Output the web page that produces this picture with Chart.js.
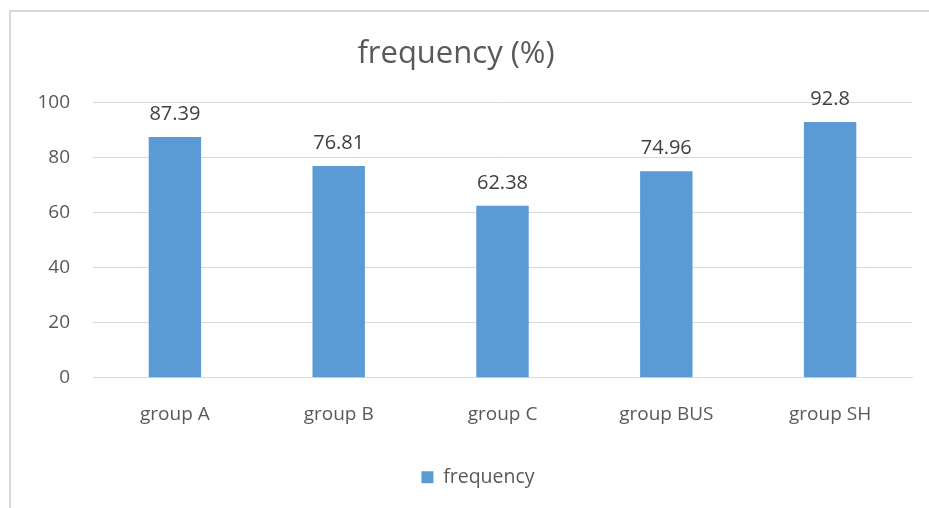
<!DOCTYPE html>
<html>
<head>
<meta charset="utf-8">
<script src="https://cdn.jsdelivr.net/npm/chart.js@4.4.1/dist/chart.umd.min.js"></script>
<style>
  html, body { margin: 0; padding: 0; background: #fff; overflow: hidden; }
  #frame { position: absolute; left: 9px; top: 10px; width: 1000px; height: 600px; border: 2px solid #d9d9d9; box-sizing: border-box; }
  #wrap { position: absolute; left: 0; top: 0; width: 929px; height: 508px; }
</style>
</head>
<body>
<div id="frame"></div>
<div id="wrap"><canvas id="myChart"></canvas></div>
<script>
const categories = ["group A", "group B", "group C", "group BUS", "group SH"];
const frequency = [87.39, 76.81, 62.38, 74.96, 92.8];
const yTicks = [0, 20, 40, 60, 80, 100];

const FONT = "'Open Sans', 'Noto Sans', sans-serif";

// labels above each bar
const barLabels = {
  id: "barLabels",
  afterLayout(chart) {
    // legend sits a bit right of centre in the original
    chart.legend.left += 22;
    chart.legend.right += 22;
  },
  afterDatasetsDraw(chart) {
    const ctx = chart.ctx;
    const meta = chart.getDatasetMeta(0);
    ctx.save();
    ctx.font = "20px " + FONT;
    ctx.fillStyle = "#404040";
    ctx.textAlign = "center";
    ctx.textBaseline = "middle";
    meta.data.forEach((bar, i) => {
      ctx.fillText(String(frequency[i]), bar.x, bar.y - 23);
    });
    ctx.restore();
  },
};

const config = {
  type: "bar",
  data: {
    labels: categories,
    datasets: [
      {
        label: "frequency",
        data: frequency,
        backgroundColor: "#5B9BD5",
        borderWidth: 0,
        categoryPercentage: 1,
        barPercentage: 0.32,
      },
    ],
  },
  options: {
    responsive: true,
    maintainAspectRatio: false,
    animation: false,
    layout: { padding: { left: 0, right: 17, top: 0, bottom: 11 } },
    plugins: {
      title: {
        display: true,
        text: "frequency (%)",
        color: "#595959",
        font: { family: FONT, size: 31, weight: "normal" },
        padding: { top: 36, bottom: 29 },
      },
      legend: {
        position: "bottom",
        labels: {
          boxWidth: 12,
          boxHeight: 12,
          padding: 10,
          color: "#595959",
          font: { family: FONT, size: 19.5 },
        },
      },
      tooltip: { enabled: false },
    },
    scales: {
      x: {
        grid: { display: false, drawTicks: false },
        border: { color: "#d9d9d9", width: 1 },
        ticks: { color: "#595959", padding: 25, font: { family: FONT, size: 19 } },
        afterFit(axis) {
          axis.height += 7;
        },
      },
      y: {
        min: 0,
        max: 100,
        afterBuildTicks(axis) {
          axis.ticks = yTicks.map((v) => ({ value: v }));
        },
        afterFit(axis) {
          axis.width = 93;
        },
        grid: { color: "#d9d9d9", lineWidth: 1, drawTicks: false },
        border: { display: false },
        ticks: { color: "#595959", padding: 23, font: { family: FONT, size: 19 } },
      },
    },
  },
  plugins: [barLabels],
};

const myChart = new Chart(document.getElementById("myChart"), config);
</script>
</body>
</html>
